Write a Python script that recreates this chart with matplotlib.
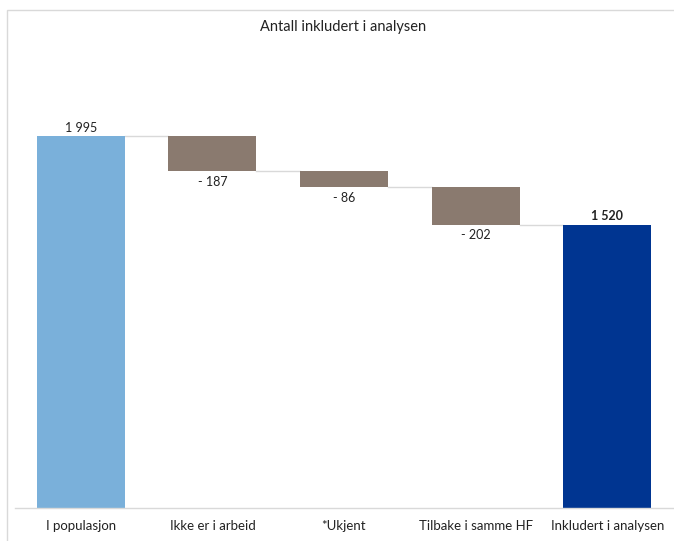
import matplotlib
matplotlib.use("Agg")
import matplotlib.pyplot as plt
from matplotlib.patches import Rectangle

categories = ["I populasjon", "Ikke er i arbeid", "*Ukjent", "Tilbake i samme HF", "Inkludert i analysen"]
start_value = 1995
changes = [-187, -86, -202]
end_value = 1520
value_labels = ["1 995", "- 187", "- 86", "- 202", "1 520"]

plt.rcParams["font.family"] = ["Lato", "DejaVu Sans"]

fig = plt.figure(figsize=(6.74, 5.41), dpi=100)
W, H = 674, 541

# light frame around the chart
fig.patches.append(Rectangle((7 / W, -0.01), 1.0, 1 - 10 / H + 0.01, transform=fig.transFigure,
                             facecolor="none", edgecolor="#D9D9D9", linewidth=1.0, zorder=0))

ax = fig.add_axes([15 / W, 1 - 508 / H, (673 - 15) / W, (508 - 42) / H])
ax.set_facecolor("none")

x = list(range(len(categories)))
width = 0.67

# bottoms and heights of the waterfall steps
bottoms, heights, colors = [0], [start_value], ["#7AB0DA"]
level = start_value
for c in changes:
    new = level + c
    bottoms.append(new)
    heights.append(-c)
    colors.append("#8A7A6F")
    level = new
bottoms.append(0)
heights.append(end_value)
colors.append("#003591")

ax.bar(x, heights, bottom=bottoms, width=width, color=colors, zorder=2)

# connector lines between steps
tops = [start_value]
level = start_value
for c in changes:
    level += c
    tops.append(level)
for i in range(len(x) - 1):
    y = tops[i]
    ax.plot([x[i] + width / 2, x[i + 1] - width / 2], [y, y], color="#D9D9D9", lw=1.0, zorder=1)

# value labels
ax.text(x[0], start_value + 12, value_labels[0], ha="center", va="bottom", fontsize=9, color="#222222")
level = start_value
for i, c in enumerate(changes, start=1):
    level += c
    ax.text(x[i], level - 25, value_labels[i], ha="center", va="top", fontsize=9, color="#222222")
ax.text(x[-1], end_value + 12, value_labels[-1], ha="center", va="bottom", fontsize=9,
        fontweight="bold", color="#222222")

ax.set_xlim(-0.5, len(categories) - 0.5)
ax.set_ylim(0, 2500)
ax.set_xticks(x)
ax.set_xticklabels(categories, fontsize=9.5, color="#222222")
ax.tick_params(axis="x", length=0, pad=9)
ax.set_yticks([])
for side in ["top", "right", "left"]:
    ax.spines[side].set_visible(False)
ax.spines["bottom"].set_color("#D9D9D9")
ax.spines["bottom"].set_linewidth(1.0)

fig.text(343 / W, 1 - 27 / H, "Antall inkludert i analysen", ha="center", va="center",
         fontsize=10.5, color="#222222")

fig.savefig("out.png", dpi=100, facecolor="white")
